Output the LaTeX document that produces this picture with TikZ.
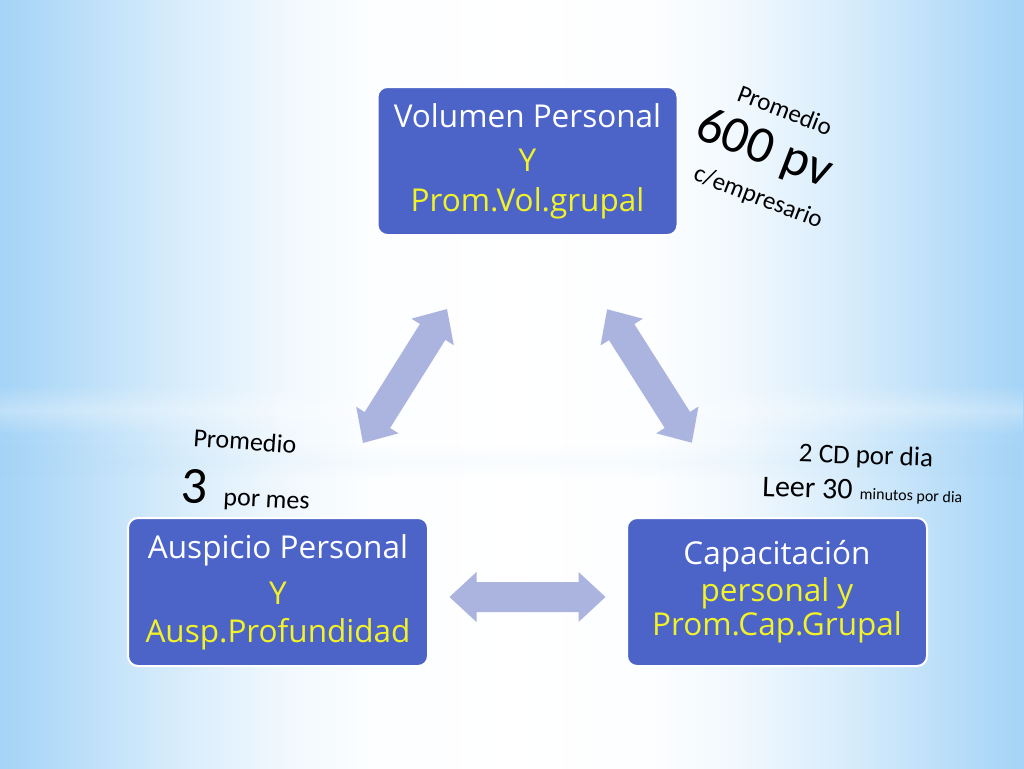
\documentclass[tikz,border=0pt]{standalone}
\usepackage{fontspec}
\setmainfont{Open Sans}
\newfontfamily\notefont{Carlito}
\usetikzlibrary{fadings}
\definecolor{bgblue}{RGB}{156,208,246}
\definecolor{boxblue}{RGB}{76,100,200}
\definecolor{boxyellow}{RGB}{242,242,40}
\definecolor{arrowfill}{RGB}{170,180,222}
\pgfdeclarehorizontalshading{bgshade}{100bp}{color(0bp)=(bgblue); color(25bp)=(bgblue!92); color(29bp)=(bgblue!68); color(34bp)=(bgblue!38); color(39bp)=(bgblue!14); color(43bp)=(bgblue!3); color(50bp)=(white); color(57bp)=(bgblue!3); color(61bp)=(bgblue!14); color(66bp)=(bgblue!38); color(71bp)=(bgblue!68); color(75bp)=(bgblue!92); color(100bp)=(bgblue)}
\tikzfading[name=bandfade, top color=transparent!100, bottom color=transparent!100, middle color=transparent!70]
\tikzset{
  box/.style={draw=white, line width=2pt, fill=boxblue, rounded corners=10pt,
    minimum width=300pt, minimum height=148pt, inner sep=0pt, align=center,
    text=white, font=\fontsize{31.5}{42}\selectfont},
  note/.style={font=\notefont\fontsize{25}{30}\selectfont, inner sep=0pt, text=black},
  blockarrow/.style={fill=arrowfill}
}
\newcommand{\dblarrow}[4]{% center, angle, length, name
  \begin{scope}[shift={#1}, rotate=#2]
    \coordinate (#4) at (0,0);
    \fill[blockarrow] (-#3/2,0) -- (-#3/2+27,25) -- (-#3/2+27,15) -- (#3/2-27,15)
      -- (#3/2-27,25) -- (#3/2,0) -- (#3/2-27,-25) -- (#3/2-27,-15)
      -- (-#3/2+27,-15) -- (-#3/2+27,-25) -- cycle;
  \end{scope}}
\begin{document}
\begin{tikzpicture}[x=1pt, y=-1pt]
\useasboundingbox (0,0) rectangle (1024,768);
\shade[shading=bgshade] (0,0) rectangle (1024,768);
\fill[white, path fading=bandfade] (0,385) rectangle (1024,435);
\fill[bgblue, opacity=0.2, path fading=bandfade] (0,445) rectangle (1024,478);

% boxes
\node[box] (vol) at (527.5,161) {Volumen Personal\\[2pt]
  \textcolor{boxyellow}{Y}\\[-2pt]\textcolor{boxyellow}{Prom.Vol.grupal}};
\node[box] (ausp) at (278,592) {Auspicio Personal\\[4pt]
  \textcolor{boxyellow}{Y}\\[-4pt]\textcolor{boxyellow}{Ausp.Profundidad}};
\node[box] (cap) at (777,592) {Capacitación\\[-5pt]
  \textcolor{boxyellow}{personal y}\\[-8pt]\textcolor{boxyellow}{Prom.Cap.Grupal}};

% block arrows
\dblarrow{(405,376)}{57.9}{158}{arrL}
\dblarrow{(649.5,376)}{-57.6}{158}{arrR}
\dblarrow{(527.5,597)}{0}{156}{arrB}

% notes top right
\node[note, rotate=-21] (n1) at (785,110) {Promedio};
\node[note, rotate=-21, font=\notefont\fontsize{52}{52}\selectfont] (n2) at (764,150) {600 pv};
\node[note, rotate=-21] (n3) at (758,198) {c/empresario};

% notes left
\node[note, rotate=-4, font=\notefont\fontsize{26}{30}\selectfont] (p1) at (245,441) {Promedio};
\node[note, rotate=-3, font=\notefont\fontsize{52}{52}\selectfont, anchor=base west] (p2) at (180,502) {3};
\node[note, rotate=-3, font=\notefont\fontsize{26}{30}\selectfont, anchor=base west] (p3) at (223,505) {por mes};

% notes right
\node[note, rotate=-2, font=\notefont\fontsize{27}{30}\selectfont] (c1) at (866,457) {2 CD por dia};
\node[note, rotate=-2, font=\notefont\fontsize{30}{30}\selectfont, anchor=base west] (c2) at (762,496) {Leer 30};
\node[note, rotate=-2, font=\notefont\fontsize{16}{20}\selectfont, anchor=base west] (c3) at ([xshift=7pt]c2.base east) {minutos por dia};
\end{tikzpicture}
\end{document}
